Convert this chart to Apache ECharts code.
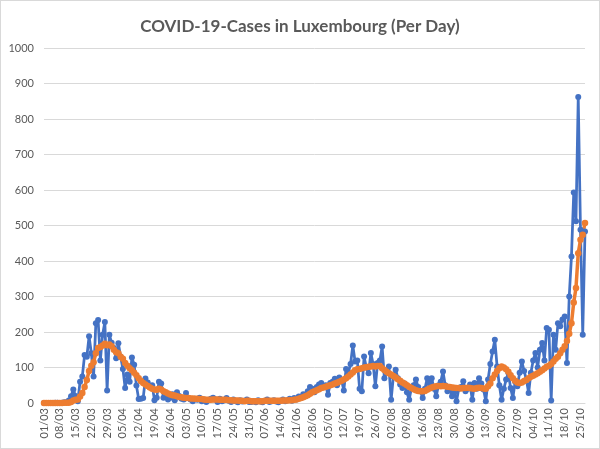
<!DOCTYPE html>
<html>
<head>
<meta charset="utf-8">
<script src="https://cdn.jsdelivr.net/npm/echarts@6/dist/echarts.min.js"></script>
<style>
html,body{margin:0;padding:0;background:#fff;}
#wrap{width:600px;height:449px;box-sizing:border-box;border:1px solid #d9d9d9;position:relative;}
#chart{position:absolute;left:0;top:0;width:598px;height:447px;}
</style>
</head>
<body>
<div id="wrap"><div id="chart"></div></div>
<script>
// Dates 01/03 .. 27/10 (2020)
const startDay = 1, startMonth = 3, dayCount = 241;
const categories = [];
(function(){
  const d = new Date(2020, startMonth - 1, startDay);
  for (let i = 0; i < dayCount; i++) {
    const dd = String(d.getDate()).padStart(2,'0');
    const mm = String(d.getMonth()+1).padStart(2,'0');
    categories.push(dd + '/' + mm);
    d.setDate(d.getDate() + 1);
  }
})();

const dailyCases = [
  0,0,0,0,0,1,1,
  0,1,2,2,7,19,38,
  20,5,60,75,135,130,188,
  140,75,225,234,120,192,228,
  35,192,170,155,126,168,130,
  96,42,80,60,128,108,49,
  11,12,14,69,58,45,50,
  8,15,60,55,15,20,10,
  15,25,8,30,20,
  12,10,28,15,10,5,12,9,15,5,10,3,8,12,15,10,3,12,5,8,14,6,3,10,5,2,8,4,6,10,3,
  3,5,2,8,4,2,6,10,3,5,8,4,2,6,10,5,8,12,6,
  14,10,18,14,25,20,33,45,40,30,45,52,56,45,50,23,56,60,68,50,72,65,35,96,85,110,162,117,120,
  40,33,131,100,84,141,110,47,113,120,
  159,70,85,103,9,75,94,70,52,42,
  55,30,9,42,50,66,45,33,14,40,
  70,55,70,40,19,50,60,89,50,33,
  40,19,30,5,40,45,61,33,40,52,
  9,56,40,70,
  55,38,5,66,110,145,178,103,50,9,
  40,66,85,42,14,60,47,85,117,90,
  66,28,85,120,141,100,150,169,120,211,
  206,7,192,150,225,216,235,244,113,300,
  413,593,512,862,488,192,483
];

const averageCases = [
  0,0,0,0,0,0,0,0,0,1,1,1,
  3,7,9,10,18,28,45,65,90,105,115,140,155,158,162,167,163,165,160,150,143,140,130,
  125,113,105,98,92,85,78,70,62,56,52,48,44,40,38,37,40,38,33,30,27,24,22,21,19,17,16,15,
  14,14,13,13,12,12,11,11,10,9,9,9,10,10,10,9,9,9,9,8,8,7,7,7,6,6,5,6,6,
  5,5,5,5,5,5,6,6,6,6,6,6,6,6,7,7,7,8,8,9,10,12,14,16,19,22,26,30,33,36,
  39,42,44,46,48,50,52,55,57,60,63,66,70,75,80,86,92,95,96,98,100,101,102,103,104,103,104,104,98,93,88,
  84,80,76,72,67,63,58,54,50,46,42,39,36,34,33,33,34,37,41,44,46,47,48,47,48,47,46,45,44,43,42,
  42,41,42,42,43,42,41,40,42,43,42,41,40,47,55,70,80,90,98,103,100,95,88,78,70,63,58,56,58,62,
  65,70,74,77,80,84,88,92,97,102,105,110,117,125,130,140,150,160,175,195,225,283,324,422,460,474,507
];

const yMin = 0, yMax = 1000, yStep = 100;
const titleText = 'COVID-19-Cases in Luxembourg (Per Day)';

const chart = echarts.init(document.getElementById('chart'));
chart.setOption({
  animation: false,
  backgroundColor: '#fff',
  title: {
    text: titleText,
    left: 'center',
    top: 12,
    textStyle: {fontFamily: 'Lato', fontSize: 17, fontWeight: 'bold', color: '#595959'}
  },
  grid: {left: 43, right: 14, top: 47, bottom: 45},
  xAxis: {
    type: 'category',
    data: categories,
    boundaryGap: false,
    axisLine: {lineStyle: {color: '#d9d9d9', width: 1}},
    axisTick: {show: false},
    axisLabel: {interval: 6, rotate: 90, fontFamily: 'Lato', fontSize: 11, color: '#595959', margin: 5}
  },
  yAxis: {
    type: 'value',
    min: yMin, max: yMax, interval: yStep,
    axisLine: {show: false},
    axisTick: {show: false},
    splitLine: {lineStyle: {color: '#d9d9d9', width: 1}},
    axisLabel: {fontFamily: 'Lato', fontSize: 11, color: '#595959', margin: 10,
      formatter: function (v) { return String(v); }}
  },
  series: [
    {
      type: 'line', data: dailyCases, symbol: 'circle', symbolSize: 6, showAllSymbol: true,
      itemStyle: {color: '#4472C4'}, lineStyle: {color: '#4472C4', width: 2.75}
    },
    {
      type: 'line', data: averageCases, symbol: 'circle', symbolSize: 6.5, showAllSymbol: true,
      itemStyle: {color: '#ED7D31'}, lineStyle: {color: '#ED7D31', width: 3.5}
    }
  ]
});
</script>
</body>
</html>
